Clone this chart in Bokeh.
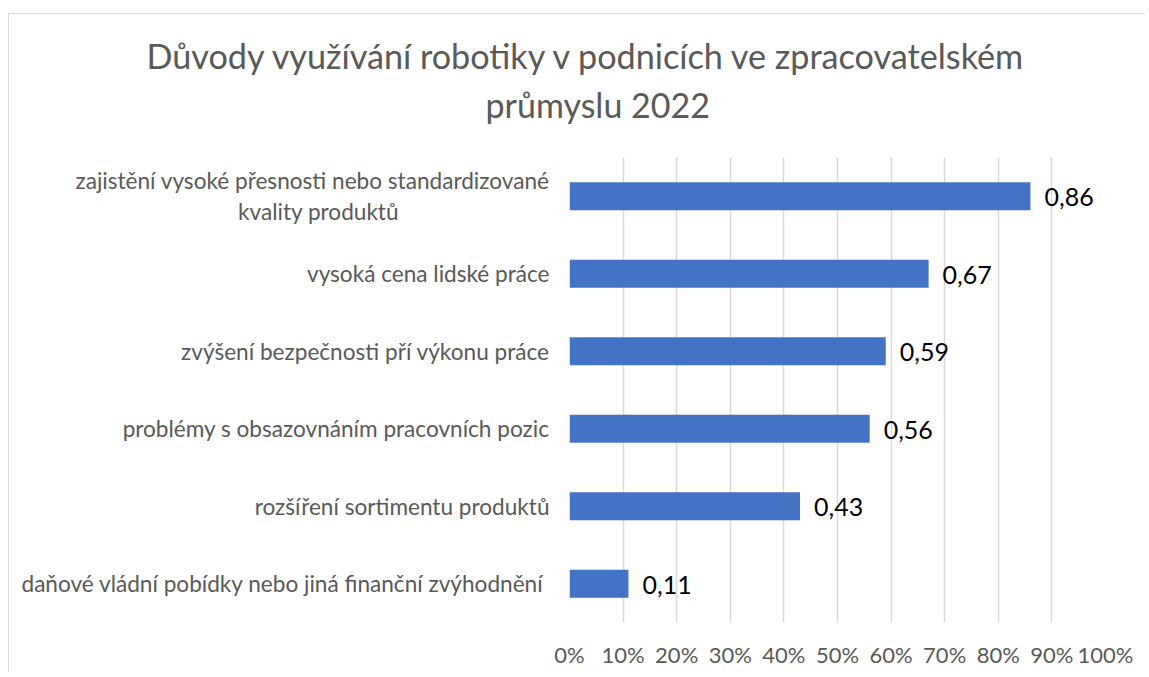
from bokeh.plotting import figure
from bokeh.models import FixedTicker, Range1d, FactorRange, ColumnDataSource, Title
from bokeh.core.properties import value
from bokeh.embed import file_html
from bokeh.resources import INLINE

# ---- data ----
title_lines = ["Důvody využívání robotiky v podnicích ve zpracovatelském", "průmyslu 2022"]
categories = [
    "zajistění vysoké přesnosti nebo standardizované\nkvality produktů" + "\u00a0" * 26,
    "vysoká cena lidské práce",
    "zvýšení bezpečnosti pří výkonu práce",
    "problémy s obsazovnáním pracovních pozic",
    "rozšíření sortimentu produktů",
    "daňové vládní pobídky nebo jiná finanční zvýhodnění ",
]
values = [0.86, 0.67, 0.59, 0.56, 0.43, 0.11]
tick_values = [0.0, 0.1, 0.2, 0.3, 0.4, 0.5, 0.6, 0.7, 0.8, 0.9, 1.0]
tick_labels = ["0%", "10%", "20%", "30%", "40%", "50%", "60%", "70%", "80%", "90%", "100%"]

FONT = "Lato"
GREY = "#595959"
BAR = "#4472C4"

src = ColumnDataSource(dict(
    y=categories,
    v=values,
    lab=[f"{v:.2f}".replace(".", ",") for v in values],
))

p = figure(
    width=1136, height=658,
    frame_width=536, frame_height=465,
    x_range=Range1d(0, 1),
    y_range=FactorRange(factors=list(reversed(categories)), range_padding=0),
    output_backend="svg", toolbar_location=None,
    min_border_left=560, min_border_right=40, min_border_top=143, min_border_bottom=50,
)
p.margin = (13, 0, 0, 8)
p.styles = {"border-left": "1px solid #d9d9d9", "border-top": "1px solid #d9d9d9"}
p.outline_line_color = None
p.background_fill_color = "white"
p.border_fill_color = "white"
p.title.text = ""

# title: second line nearest the frame, first line above it
p.add_layout(Title(text=title_lines[1], align="left", offset=-84, standoff=66,
                   text_font=FONT, text_font_size="34px", text_font_style="normal",
                   text_color=GREY), "above")
p.add_layout(Title(text=title_lines[0], align="left", offset=-423, standoff=-55,
                   text_font=FONT, text_font_size="34.2px", text_font_style="normal",
                   text_color=GREY), "above")

p.hbar(y="y", right="v", left=0, height=0.36, source=src, color=BAR, line_color=None)
p.text(x="v", y="y", text="lab", source=src, x_offset=14, y_offset=1,
       text_font=value(FONT), text_font_size="25px", text_color="black",
       text_baseline="middle", text_align="left")

# x axis
xa = p.xaxis[0]
xa.ticker = FixedTicker(ticks=tick_values)
xa.major_label_overrides = {t: l for t, l in zip(tick_values, tick_labels)}
xa.axis_line_color = None
xa.major_tick_line_color = None
xa.minor_tick_line_color = None
xa.major_label_standoff = 12
xa.major_label_text_font = FONT
xa.major_label_text_font_size = "22px"
xa.major_label_text_color = GREY

# y axis
ya = p.yaxis[0]
ya.axis_line_color = None
ya.major_tick_line_color = None
ya.minor_tick_line_color = None
ya.major_label_standoff = 14
ya.major_label_text_font = FONT
ya.major_label_text_font_size = "22.6px"
ya.major_label_text_color = GREY
ya.major_label_text_line_height = 1.15

p.xgrid.grid_line_color = "#d9d9d9"
p.xgrid.grid_line_width = 1.5
p.ygrid.grid_line_color = None

open("out.html", "w").write(file_html(p, INLINE))
